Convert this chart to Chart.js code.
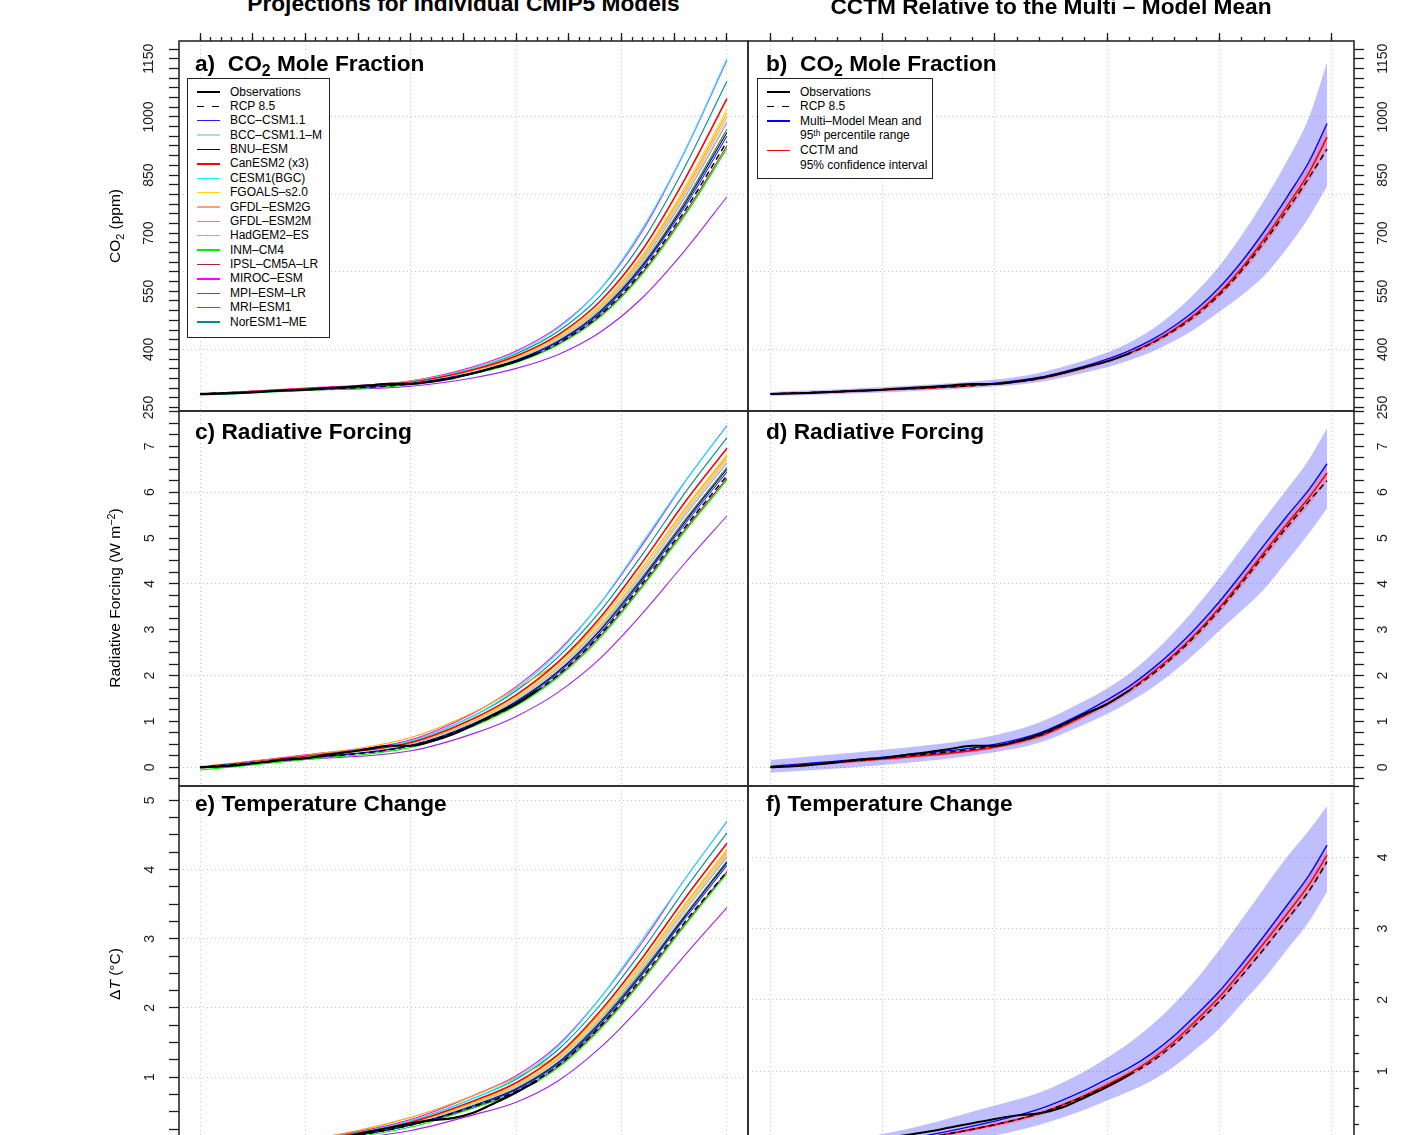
<!DOCTYPE html>
<html>
<head>
<meta charset="utf-8">
<script src="https://cdn.jsdelivr.net/npm/chart.js@4.4.1/dist/chart.umd.min.js"></script>
<style>
  html, body { margin: 0; padding: 0; width: 1421px; height: 1135px; overflow: hidden; background: #fff; }
  body { position: relative; font-family: "Liberation Sans", Arial, Helvetica, sans-serif; color: #000; }
  canvas { position: absolute; }
  .t { position: absolute; white-space: nowrap; line-height: 1; }
  .title { font-weight: bold; font-size: 22.7px; transform: translateX(-50%); }
  .plab { font-weight: bold; font-size: 22.7px; }
  .plab sub, .ytit sub { font-size: 70%; vertical-align: -0.3em; line-height: 0; }
  .ytit { font-size: 15.5px; transform: translate(-50%, -50%) rotate(-90deg); }
  .ytit sup { font-size: 70%; vertical-align: 0.45em; line-height: 0; }
  .lbox { position: absolute; border: 1px solid #222; background: #fff; }
  .lrow { position: absolute; font-size: 12px; line-height: 14px; height: 14px; white-space: nowrap; }
  .lrow sup { font-size: 70%; vertical-align: 0.4em; line-height: 0; }
  .lline { position: absolute; }
</style>
</head>
<body>
<canvas id="pa"></canvas>
<canvas id="pb"></canvas>
<canvas id="pc"></canvas>
<canvas id="pd"></canvas>
<canvas id="pe"></canvas>
<canvas id="pf"></canvas>

<div class="t title" style="left:463.5px; top:-8px;">Projections for Individual CMIP5 Models</div>
<div class="t title" style="left:1051px; top:-5px;">CCTM Relative to the Multi – Model Mean</div>

<div class="t plab" style="left:195px; top:52px;">a)&nbsp; CO<sub>2</sub> Mole Fraction</div>
<div class="t plab" style="left:766px; top:52px;">b)&nbsp; CO<sub>2</sub> Mole Fraction</div>
<div class="t plab" style="left:195px; top:420px;">c) Radiative Forcing</div>
<div class="t plab" style="left:766px; top:420px;">d) Radiative Forcing</div>
<div class="t plab" style="left:195px; top:792px;">e) Temperature Change</div>
<div class="t plab" style="left:766px; top:792px;">f) Temperature Change</div>

<div class="t ytit" style="left:115px; top:226px;">CO<sub>2</sub> (ppm)</div>
<div class="t ytit" style="left:115px; top:598px;">Radiative Forcing (W m<sup>−2</sup>)</div>
<div class="t ytit" style="left:115px; top:974px;">Δ<i>T</i> (°C)</div>

<script>
// ---- data ----
const years = [1850, 1900, 1950, 1980, 2000, 2020, 2040, 2060, 2080, 2100];
const obsYears = [1850, 1860, 1870, 1880, 1890, 1900, 1910, 1920, 1930, 1940, 1950, 1960, 1970, 1980, 1990, 2000, 2010];
const mmmYears = [1850, 1900, 1950, 1970, 1990, 2000, 2010, 2020, 2030, 2040, 2050, 2060, 2070, 2080, 2090, 2098];

const modelNames = ['BCC–CSM1.1', 'BCC–CSM1.1–M', 'BNU–ESM', 'CanESM2 (x3)', 'CESM1(BGC)', 'FGOALS–s2.0',
  'GFDL–ESM2G', 'GFDL–ESM2M', 'HadGEM2–ES', 'INM–CM4', 'IPSL–CM5A–LR', 'MIROC–ESM', 'MPI–ESM–LR', 'MRI–ESM1', 'NorESM1–ME'];
const modelColors = ['#2020ff', '#add8e6', '#000080', '#ff0000', '#00ffff', '#ffd700',
  '#ffa07a', '#bc8f8f', '#ffa500', '#00ee00', '#a52a2a', '#ff00ff', '#228b22', '#a020f0', '#008b8b'];

// CO2 (ppm), one row per model, at `years`
const co2Models = [
  [285, 296, 312, 340, 371, 419, 494, 611, 768, 950],
  [285, 297, 313, 343, 376, 427, 507, 630, 797, 990],
  [285, 296, 312, 341, 372, 421, 498, 616, 775, 960],
  [285, 298, 315, 348, 383, 438, 525, 658, 839, 1047],
  [285, 298, 317, 352, 392, 455, 557, 713, 913, 1150],
  [285, 297, 314, 346, 380, 433, 516, 645, 819, 1020],
  [284, 296, 313, 344, 377, 429, 510, 635, 804, 1000],
  [285, 297, 313, 343, 375, 426, 505, 628, 793, 985],
  [285, 298, 318, 350, 384, 434, 515, 641, 812, 1010],
  [282, 294, 309, 337, 366, 412, 484, 595, 745, 918],
  [285, 296, 311, 338, 368, 414, 487, 599, 750, 925],
  [285, 300, 319, 356, 396, 458, 556, 707, 911, 1146],
  [284, 296, 312, 341, 373, 422, 500, 620, 781, 968],
  [285, 294, 305, 327, 351, 387, 445, 534, 655, 794],
  [285, 299, 317, 352, 389, 447, 539, 680, 871, 1092]
];
// radiative forcing (W m-2)
const rfModels = [
  [0, 0.20, 0.48, 0.94, 1.41, 2.06, 2.94, 4.08, 5.30, 6.44],
  [0, 0.22, 0.50, 0.99, 1.48, 2.16, 3.08, 4.24, 5.50, 6.66],
  [0, 0.20, 0.48, 0.96, 1.43, 2.09, 2.99, 4.12, 5.35, 6.50],
  [0, 0.24, 0.54, 1.07, 1.58, 2.30, 3.27, 4.48, 5.78, 6.96],
  [0, 0.24, 0.57, 1.13, 1.71, 2.50, 3.59, 4.91, 6.23, 7.46],
  [0, 0.22, 0.52, 1.04, 1.54, 2.24, 3.18, 4.37, 5.65, 6.82],
  [-0.02, 0.20, 0.50, 1.01, 1.50, 2.19, 3.11, 4.29, 5.55, 6.72],
  [0, 0.22, 0.50, 0.99, 1.47, 2.15, 3.06, 4.23, 5.48, 6.64],
  [0.02, 0.26, 0.65, 1.20, 1.72, 2.30, 3.20, 4.36, 5.62, 6.78],
  [-0.06, 0.17, 0.43, 0.90, 1.34, 1.97, 2.83, 3.94, 5.14, 6.26],
  [0, 0.20, 0.47, 0.91, 1.37, 2.00, 2.87, 3.97, 5.18, 6.30],
  [0, 0.27, 0.60, 1.19, 1.76, 2.54, 3.58, 4.86, 6.22, 7.45],
  [-0.02, 0.20, 0.48, 0.96, 1.44, 2.10, 3.01, 4.16, 5.39, 6.54],
  [0, 0.17, 0.36, 0.74, 1.11, 1.64, 2.38, 3.36, 4.45, 5.48],
  [0, 0.26, 0.57, 1.13, 1.67, 2.41, 3.41, 4.65, 5.98, 7.19]
];
// temperature change (deg C)
const dtModels = [
  [-0.05, 0.06, 0.31, 0.58, 0.82, 1.19, 1.76, 2.49, 3.29, 4.06],
  [-0.05, 0.07, 0.33, 0.61, 0.86, 1.25, 1.85, 2.59, 3.41, 4.20],
  [-0.05, 0.06, 0.31, 0.60, 0.83, 1.21, 1.79, 2.51, 3.32, 4.10],
  [-0.04, 0.08, 0.35, 0.66, 0.92, 1.33, 1.96, 2.73, 3.58, 4.38],
  [-0.04, 0.08, 0.37, 0.70, 0.99, 1.45, 2.15, 3.00, 3.86, 4.70],
  [-0.05, 0.07, 0.34, 0.64, 0.89, 1.30, 1.91, 2.67, 3.50, 4.30],
  [-0.06, 0.06, 0.33, 0.63, 0.87, 1.27, 1.87, 2.62, 3.44, 4.23],
  [-0.05, 0.07, 0.33, 0.61, 0.85, 1.25, 1.84, 2.58, 3.40, 4.18],
  [-0.04, 0.09, 0.42, 0.74, 1.00, 1.33, 1.92, 2.66, 3.48, 4.27],
  [-0.08, 0.04, 0.28, 0.56, 0.78, 1.14, 1.70, 2.40, 3.19, 3.94],
  [-0.05, 0.06, 0.31, 0.56, 0.79, 1.16, 1.72, 2.42, 3.21, 3.97],
  [-0.04, 0.10, 0.39, 0.74, 1.02, 1.47, 2.15, 2.96, 3.86, 4.69],
  [-0.06, 0.06, 0.31, 0.60, 0.84, 1.22, 1.81, 2.54, 3.34, 4.12],
  [-0.05, 0.04, 0.23, 0.46, 0.64, 0.95, 1.43, 2.05, 2.76, 3.45],
  [-0.04, 0.09, 0.37, 0.70, 0.97, 1.40, 2.05, 2.84, 3.71, 4.53]
];

const rcpCO2 = [285, 296, 311, 339, 369, 416, 490, 604, 758, 936];
const rcpRF = [0, 0.20, 0.47, 0.93, 1.38, 2.02, 2.90, 4.02, 5.23, 6.36];
const rcpDT = [-0.05, 0.06, 0.31, 0.58, 0.80, 1.17, 1.74, 2.45, 3.24, 3.97];

const obsCO2 = [285, 286, 288, 291, 294, 296, 300, 303, 307, 311, 311, 317, 326, 339, 354, 369, 390];
const obsRF = [0, 0.02, 0.06, 0.11, 0.17, 0.20, 0.27, 0.33, 0.40, 0.47, 0.47, 0.57, 0.72, 0.93, 1.16, 1.38, 1.68];
const obsDT = [-0.05, -0.04, -0.02, 0.0, 0.03, 0.06, 0.10, 0.15, 0.21, 0.27, 0.33, 0.38, 0.41, 0.49, 0.63, 0.78, 0.95];

// multi-model mean, 95th percentile range, CCTM and its 95% CI, at `mmmYears`
const mmmCO2 = [285, 296, 313, 328, 357, 375, 397, 425, 461, 505, 560, 627, 705, 792, 885, 983];
const mmmCO2Hi = [290, 303, 322, 340, 372, 392, 418, 452, 496, 550, 615, 695, 785, 885, 1000, 1142];
const mmmCO2Lo = [280, 289, 304, 316, 340, 354, 372, 394, 422, 456, 497, 540, 590, 660, 742, 821];
const cctmCO2 = [285, 295, 311, 325, 353, 370, 391, 418, 452, 494, 546, 610, 685, 768, 857, 948];
const cctmCO2Hi = [286, 297, 314, 329, 358, 376, 398, 426, 461, 505, 559, 626, 704, 790, 883, 980];
const cctmCO2Lo = [284, 293, 308, 321, 348, 364, 384, 410, 443, 483, 533, 595, 667, 747, 832, 915];
const rcpCO2R = [285, 296, 311, 325, 354, 369, 390, 416, 449, 490, 541, 604, 677, 758, 844, 917];

const mmmRF = [0.02, 0.22, 0.50, 0.75, 1.20, 1.47, 1.77, 2.14, 2.57, 3.06, 3.61, 4.22, 4.85, 5.47, 6.06, 6.62];
const mmmRFHi = [0.16, 0.38, 0.70, 0.98, 1.45, 1.72, 2.05, 2.47, 2.96, 3.52, 4.12, 4.77, 5.42, 6.06, 6.72, 7.40];
const mmmRFLo = [-0.12, 0.05, 0.33, 0.54, 0.94, 1.16, 1.43, 1.73, 2.10, 2.52, 2.98, 3.42, 3.89, 4.49, 5.11, 5.65];
const cctmRF = [0.0, 0.18, 0.44, 0.68, 1.13, 1.39, 1.69, 2.06, 2.47, 2.94, 3.48, 4.07, 4.69, 5.30, 5.89, 6.42];
const cctmRFHi = [0.02, 0.21, 0.48, 0.73, 1.19, 1.46, 1.77, 2.15, 2.57, 3.06, 3.61, 4.21, 4.84, 5.46, 6.07, 6.61];
const cctmRFLo = [-0.02, 0.15, 0.40, 0.63, 1.07, 1.32, 1.61, 1.97, 2.37, 2.82, 3.35, 3.93, 4.54, 5.14, 5.72, 6.24];
const rcpRFR = [0, 0.20, 0.47, 0.70, 1.16, 1.38, 1.68, 2.02, 2.43, 2.90, 3.43, 4.02, 4.63, 5.23, 5.81, 6.25];

const mmmDT = [-0.12, 0.0, 0.30, 0.47, 0.73, 0.89, 1.05, 1.25, 1.50, 1.80, 2.12, 2.50, 2.90, 3.32, 3.75, 4.17];
const mmmDTHi = [-0.02, 0.12, 0.52, 0.70, 1.00, 1.19, 1.40, 1.65, 1.95, 2.30, 2.70, 3.13, 3.57, 4.00, 4.38, 4.72];
const mmmDTLo = [-0.25, -0.14, 0.10, 0.25, 0.46, 0.59, 0.72, 0.87, 1.07, 1.32, 1.60, 1.95, 2.30, 2.70, 3.10, 3.52];
const cctmDT = [-0.12, -0.02, 0.25, 0.41, 0.66, 0.81, 0.97, 1.17, 1.42, 1.72, 2.04, 2.41, 2.80, 3.20, 3.62, 4.03];
const cctmDTHi = [-0.11, 0.0, 0.28, 0.45, 0.70, 0.86, 1.02, 1.23, 1.49, 1.80, 2.13, 2.51, 2.91, 3.32, 3.74, 4.15];
const cctmDTLo = [-0.13, -0.04, 0.22, 0.37, 0.62, 0.76, 0.92, 1.11, 1.35, 1.64, 1.95, 2.31, 2.69, 3.08, 3.50, 3.90];
const rcpDTR = [-0.12, -0.02, 0.25, 0.41, 0.65, 0.79, 0.95, 1.14, 1.38, 1.67, 1.98, 2.34, 2.72, 3.12, 3.53, 3.94];

// tick labels and grid values
const co2Labels = [250, 400, 550, 700, 850, 1000, 1150];
const co2Grid = [400, 600, 800, 1000];
const rfLabels = [0, 1, 2, 3, 4, 5, 6, 7];
const rfGrid = [0, 2, 4, 6];
const dtLabelsE = [0, 1, 2, 3, 4, 5];
const dtLabelsF = [0, 1, 2, 3, 4];
const dtGrid = [0, 1, 2, 3, 4, 5];
const gridYears = [1850, 1900, 1950, 2000, 2050, 2100];

// ---- helpers ----
const INK = '#1c1c1c';
const GRID = '#c4c4c4';
const FONT = '"Liberation Sans", Arial, Helvetica, sans-serif';
const NONE = 'rgba(0,0,0,0)';

function steps(a, b, s) {
  const out = [];
  const n = Math.round((b - a) / s);
  for (let i = 0; i <= n; i++) out.push(+(a + i * s).toFixed(4));
  return out;
}
const pts = (xs, ys) => xs.map((x, i) => ({ x: x, y: ys[i] }));

const framePlugin = {
  id: 'frame',
  afterDraw(chart) {
    const { ctx, chartArea: a } = chart;
    ctx.save();
    ctx.strokeStyle = '#2a2a2a';
    ctx.lineWidth = 1.6;
    ctx.strokeRect(a.left, a.top, a.right - a.left, a.bottom - a.top);
    ctx.restore();
  }
};

function makePanel(id, p) {
  const cv = document.getElementById(id);
  cv.width = p.w; cv.height = p.h;
  cv.style.left = p.left + 'px'; cv.style.top = p.top + 'px';
  cv.style.width = p.w + 'px'; cv.style.height = p.h + 'px';

  const scales = {
    x: {
      type: 'linear', position: 'top', min: 1840, max: 2110, weight: 2,
      afterBuildTicks: s => { s.ticks = p.majorX.map(v => ({ value: v })); },
      afterFit: s => { s.height = p.topAxis ? 16 : 0; s.paddingLeft = 0; s.paddingRight = 0; },
      ticks: { display: false },
      grid: {
        color: c => gridYears.includes(c.tick.value) ? GRID : NONE,
        lineWidth: 1, drawTicks: p.topAxis, tickLength: 8, tickColor: INK, tickWidth: 1.3
      },
      border: { display: false, dash: [1, 3] }
    },
    y: {
      type: 'linear', position: p.side, min: p.yMin, max: p.yMax,
      afterBuildTicks: s => { s.ticks = p.yTicks.map(v => ({ value: v })); },
      afterFit: s => { s.width = p.axisW; s.paddingTop = 0; s.paddingBottom = 0; },
      ticks: {
        autoSkip: false, minRotation: 90, maxRotation: 90, crossAlign: 'center',
        padding: p.labPad, color: INK, font: { family: FONT, size: 14 },
        callback: v => p.yLabels.includes(v) ? String(v) : ''
      },
      grid: {
        color: c => p.yGrid.includes(c.tick.value) ? GRID : NONE,
        lineWidth: 1, tickLength: p.tickLen, tickColor: INK, tickWidth: 1.3
      },
      border: { display: false, dash: [1, 3] }
    }
  };
  if (p.topAxis) {
    scales.xm = {
      type: 'linear', position: 'top', min: 1840, max: 2110, weight: 1,
      afterBuildTicks: s => { s.ticks = p.minorX.map(v => ({ value: v })); },
      afterFit: s => { s.height = 0; s.paddingLeft = 0; s.paddingRight = 0; },
      ticks: { display: false },
      grid: { drawOnChartArea: false, tickLength: 4, tickColor: INK, tickWidth: 1.3 },
      border: { display: false }
    };
  }

  return new Chart(cv, {
    type: 'line',
    data: { datasets: p.datasets },
    options: {
      responsive: false, animation: false, devicePixelRatio: 1, events: [],
      layout: { padding: p.pad },
      elements: { point: { radius: 0 }, line: { cubicInterpolationMode: 'monotone', fill: false } },
      plugins: { legend: { display: false }, tooltip: { enabled: false } },
      scales: scales
    },
    plugins: [framePlugin]
  });
}

function modelSets(modelVals, obsVals, rcpVals) {
  const sets = [
    { data: pts(obsYears, obsVals), borderColor: '#000', borderWidth: 2.2 },
    { data: pts(years, rcpVals), borderColor: '#000', borderWidth: 1.5, borderDash: [6, 4] }
  ];
  modelVals.forEach((v, i) => {
    sets.push({ data: pts(years, v), borderColor: modelColors[i], borderWidth: i === 3 ? 1.6 : 1.1 });
  });
  return sets;
}

function meanSets(obsVals, rcpVals, cc, ccHi, ccLo, mm, mmHi, mmLo) {
  return [
    { data: pts(obsYears, obsVals), borderColor: '#000', borderWidth: 2 },
    { data: pts(mmmYears, rcpVals), borderColor: '#000', borderWidth: 1.5, borderDash: [6, 4] },
    { data: pts(mmmYears, cc), borderColor: '#ff0000', borderWidth: 1.6 },
    { data: pts(mmmYears, mm), borderColor: '#0000ff', borderWidth: 1.4 },
    { data: pts(mmmYears, ccHi), borderWidth: 0, borderColor: NONE, backgroundColor: 'rgba(255,40,60,0.26)', fill: '+1' },
    { data: pts(mmmYears, ccLo), borderWidth: 0, borderColor: NONE },
    { data: pts(mmmYears, mmHi), borderWidth: 0, borderColor: NONE, backgroundColor: 'rgba(0,0,255,0.25)', fill: '+1' },
    { data: pts(mmmYears, mmLo), borderWidth: 0, borderColor: NONE }
  ];
}

const leftMajor = steps(1850, 2100, 25), leftMinor = steps(1850, 2100, 5);
const rightMajor = steps(1850, 2100, 50), rightMinor = steps(1850, 2100, 10);
const co2Ticks = steps(250, 1175, 25);
const rfTicks = steps(-0.25, 7.75, 0.25);
const dtTicks = steps(0, 5, 0.25);

const L = { left: 100, w: 651, side: 'left', axisW: 79 };
const R = { left: 745, w: 676, side: 'right', axisW: 67 };

makePanel('pa', Object.assign({}, L, {
  top: 25, h: 406, pad: { left: 0, right: 3, top: 0, bottom: 20 }, topAxis: true,
  majorX: leftMajor, minorX: leftMinor, yMin: 241, yMax: 1196,
  yTicks: co2Ticks, yLabels: co2Labels, yGrid: co2Grid, tickLen: 10, labPad: 4,
  datasets: modelSets(co2Models, obsCO2, rcpCO2)
}));
makePanel('pb', Object.assign({}, R, {
  top: 25, h: 406, pad: { left: 3, right: 0, top: 0, bottom: 20 }, topAxis: true,
  majorX: rightMajor, minorX: rightMinor, yMin: 241, yMax: 1196,
  yTicks: co2Ticks, yLabels: co2Labels, yGrid: co2Grid, tickLen: 10, labPad: 4,
  datasets: meanSets(obsCO2, rcpCO2R, cctmCO2, cctmCO2Hi, cctmCO2Lo, mmmCO2, mmmCO2Hi, mmmCO2Lo)
}));
makePanel('pc', Object.assign({}, L, {
  top: 408, h: 398, pad: { left: 0, right: 3, top: 3, bottom: 20 }, topAxis: false,
  majorX: gridYears, yMin: -0.408, yMax: 7.77,
  yTicks: rfTicks, yLabels: rfLabels, yGrid: rfGrid, tickLen: 10, labPad: 15,
  datasets: modelSets(rfModels, obsRF, rcpRF)
}));
makePanel('pd', Object.assign({}, R, {
  top: 408, h: 398, pad: { left: 3, right: 0, top: 3, bottom: 20 }, topAxis: false,
  majorX: gridYears, yMin: -0.408, yMax: 7.77,
  yTicks: rfTicks, yLabels: rfLabels, yGrid: rfGrid, tickLen: 10, labPad: 15,
  datasets: meanSets(obsRF, rcpRFR, cctmRF, cctmRFHi, cctmRFLo, mmmRF, mmmRFHi, mmmRFLo)
}));
makePanel('pe', Object.assign({}, L, {
  top: 783, h: 381, pad: { left: 0, right: 3, top: 3, bottom: 3 }, topAxis: false,
  majorX: gridYears, yMin: -0.21, yMax: 5.206,
  yTicks: dtTicks, yLabels: dtLabelsE, yGrid: dtGrid, tickLen: 10, labPad: 15,
  datasets: modelSets(dtModels, obsDT, rcpDT)
}));
makePanel('pf', Object.assign({}, R, {
  top: 783, h: 381, pad: { left: 3, right: 0, top: 3, bottom: 3 }, topAxis: false,
  majorX: gridYears, yMin: -0.26, yMax: 5.0,
  yTicks: dtTicks, yLabels: dtLabelsF, yGrid: dtGrid, tickLen: 5, labPad: 20,
  datasets: meanSets(obsDT, rcpDTR, cctmDT, cctmDTHi, cctmDTLo, mmmDT, mmmDTHi, mmmDTLo)
}));

// ---- legends ----
function legendBox(x, y, w, h) {
  const d = document.createElement('div');
  d.className = 'lbox';
  d.style.left = x + 'px'; d.style.top = y + 'px';
  d.style.width = w + 'px'; d.style.height = h + 'px';
  document.body.appendChild(d);
}
function legendRow(x, yc, color, width, dashed, html) {
  if (color) {
    const ln = document.createElement('div');
    ln.className = 'lline';
    ln.style.left = x + 'px';
    ln.style.top = (yc - width / 2) + 'px';
    ln.style.width = '23px';
    ln.style.height = width + 'px';
    ln.style.background = dashed
      ? 'repeating-linear-gradient(90deg, ' + color + ' 0 7px, transparent 7px 15px)'
      : color;
    document.body.appendChild(ln);
  }
  const t = document.createElement('div');
  t.className = 'lrow';
  t.style.left = (x + 33) + 'px';
  t.style.top = (yc - 7.5) + 'px';
  t.innerHTML = html;
  document.body.appendChild(t);
}

legendBox(187, 78, 141, 258);
legendRow(197, 92, '#000', 2, false, 'Observations');
legendRow(197, 92 + 14.375, '#000', 1.5, true, 'RCP 8.5');
modelNames.forEach((n, i) => legendRow(197, 92 + (i + 2) * 14.375, modelColors[i], 1.3, false, n));

legendBox(757, 78, 174, 99);
legendRow(767, 92, '#000', 2, false, 'Observations');
legendRow(767, 106.6, '#000', 1.5, true, 'RCP 8.5');
legendRow(767, 121.2, '#0000ff', 1.5, false, 'Multi–Model Mean and');
legendRow(767, 135.8, null, 0, false, '95<sup>th</sup> percentile range');
legendRow(767, 150.4, '#ff0000', 1.5, false, 'CCTM and');
legendRow(767, 165, null, 0, false, '95% confidence interval');
</script>
</body>
</html>
